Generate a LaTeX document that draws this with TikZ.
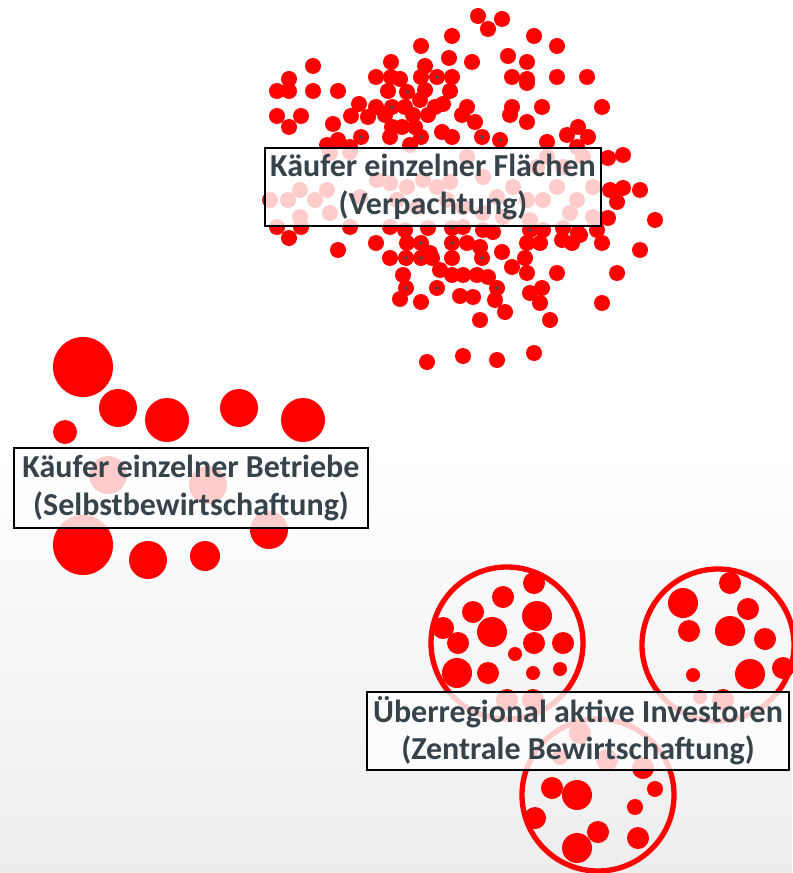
\documentclass[tikz,border=0pt]{standalone}
\usepackage{fontspec}
\setmainfont{Carlito}
\usepackage{tikz}
\definecolor{DotRed}{HTML}{FF0000}
\definecolor{LabelGray}{HTML}{36434B}
\definecolor{SpotGray}{HTML}{3E4A52}
\tikzset{
  reddot/.style={fill=DotRed},
  spot/.style={fill=SpotGray},
  ringline/.style={draw=DotRed,line width=4pt},
  labelbox/.style={draw=black,line width=1.5pt,fill=white,fill opacity=0.8,text opacity=1,
    font=\fontsize{24}{28}\selectfont\bfseries\color{LabelGray},
    align=center,inner sep=0pt},
}

\begin{document}
\begin{tikzpicture}[x=0.75pt,y=-0.75pt]
  % Background
  \useasboundingbox (0,0) rectangle (792,873);
  \fill[white] (0,0) rectangle (792,450);
  \shade[top color=white,bottom color=black!7] (0,450) rectangle (792,873);
  % Cluster of many small buyers
  \foreach \x/\y in {478/16,502/19,488/29,452/36,534/36,557/46,421/46,313/66,391/62,449/58,
    472/62,508/56,527/62,425/66,289/79,376/77,391/77,400/79,421/77,437/77,452/77,512/77,
    527/79,557/77,587/77,277/91,289/91,313/91,338/91,388/91,407/92,425/90,450/91,527/83,
    359/104,376/107,392/107,405/107,420/100,435/107,443/104,467/107,512/107,542/107,602/107,
    277/116,301/116,351/116,368/117,385/115,413/115,428/115,462/115,475/122,510/115,527/122,
    289/127,333/124,392/127,402/127,415/127,338/140,361/137,390/137,421/137,442/132,452/137,
    482/137,500/140,547/142,567/135,578/127,588/137,327/145,350/147,410/145,577/147,
    608/158,623/155,610/190,623/188,640/190,617/202,608/218,655/220,
    330/153,350/152,270/200,288/200,300/190,315/200,327/190,360/197,377/180,390/183,
    407/187,423/180,437/187,450/182,467/157,483/177,497/197,513/187,527/200,543/200,
    557/187,570/213,583/157,593/187,593/217,397/200,417/207,447/200,463/207,483/213,
    503/217,530/220,547/157,563/167,537/167,577/200,300/217,330/213,
    277/227,301/227,350/227,390/227,405/230,428/228,452/228,463/227,483/230,493/232,
    530/230,543/230,563/228,578/233,597/230,289/238,338/250,376/243,407/243,421/243,
    430/253,452/243,467/243,480/247,502/252,527/243,540/243,562/240,572/243,580/235,
    602/243,640/250,390/258,406/258,421/258,432/258,452/258,482/258,525/258,512/267,
    403/275,440/270,452/275,463/275,477/275,488/277,527/273,557/273,617/273,406/288,
    437/288,497/288,530/293,542/288,400/299,421/302,460/296,473/297,495/300,505/312,
    540/303,602/303,480/320,550/320,427/362,463/356,497/360,534/353}
    \fill[reddot] (\x,\y) circle[radius=6pt];
  \foreach \x/\y in {437/77,407/92,392/107,361/137,421/137,482/137,500/140,452/228,530/230,
    421/243,452/243,406/258,421/258,482/258,406/288,437/288,497/288}
    \fill[spot] (\x,\y) circle[radius=1.4pt];
  % Single farms
  \foreach \x/\y/\r in {83/367/30,118/408/19,167/420/22,239/408/19,303/420/22,65/432/12,
    108/475/19,208/485/19,269/530/19,83/545/30,148/560/19,205/556/15}
    \fill[reddot] (\x,\y) circle[radius=\r*0.75pt];
  % Investor rings
  \draw[ringline] (507,643) circle[radius=57pt];
  \draw[ringline] (718,645) circle[radius=57pt];
  \draw[ringline] (598,795) circle[radius=57pt];
  \foreach \x/\y/\r in {534/583/11,503/597/11,473/612/11,537/616/15,492/632/15,443/628/11,
    458/643/11,534/643/11,563/643/11,515/654/7,457/673/15,488/673/11,533/673/7,560/669/7,
    507/700/11,533/700/11,
    730/583/11,683/603/15,748/609/11,689/631/11,730/631/15,765/639/11,693/675/7,750/674/15,
    783/668/11,700/697/7,723/700/11,
    552/788/11,577/795/15,655/789/8,635/807/8,535/818/11,598/832/11,577/848/15,638/838/11,
    580/733/11,607/760/11,560/757/8,643/768/11}
    \fill[reddot] (\x,\y) circle[radius=\r*0.75pt];
  % Labels
  \node[labelbox,minimum width=252pt,minimum height=58pt] (flaechen) at (433,187)
    {Käufer einzelner Flächen\\(Verpachtung)};
  \node[labelbox,minimum width=265pt,minimum height=60pt] (betriebe) at (191,488)
    {Käufer einzelner Betriebe\\(Selbstbewirtschaftung)};
  \node[labelbox,minimum width=316pt,minimum height=58pt] (investoren) at (578,731)
    {Überregional aktive Investoren\\(Zentrale Bewirtschaftung)};
\end{tikzpicture}
\end{document}
